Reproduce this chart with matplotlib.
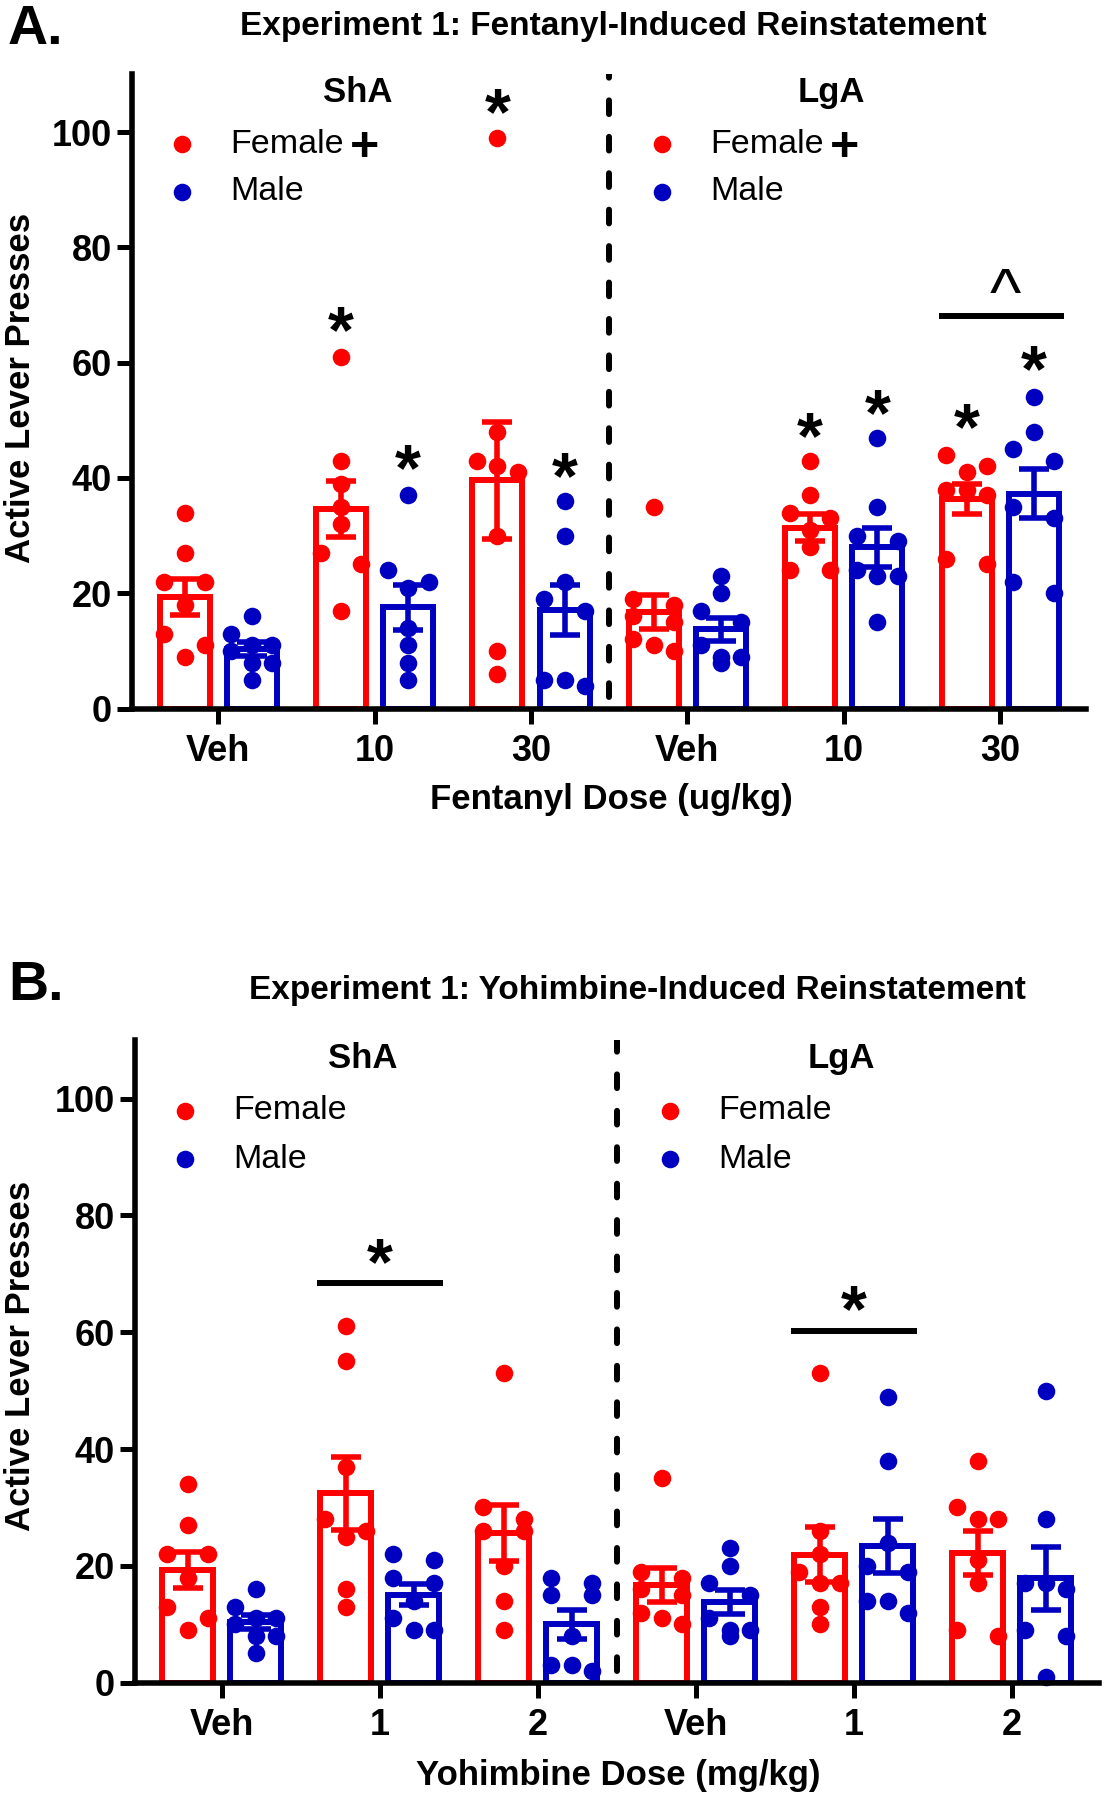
import numpy as np
import matplotlib
matplotlib.use('Agg')
import matplotlib.pyplot as plt

plt.rcParams['font.family'] = ['Liberation Sans', 'DejaVu Sans']

RED = '#FF0000'
BLUE = '#0000C0'

# ---------------- data ----------------
ticklabels_A = ['Veh', '10', '30', 'Veh', '10', '30']
ticklabels_B = ['Veh', '1', '2', 'Veh', '1', '2']

# Panel A: Fentanyl (ShA Veh, 10, 30, LgA Veh, 10, 30)
A_female_pts = [
    [34, 27, 22, 22, 18, 13, 11, 9],
    [61, 43, 39, 35, 32, 27, 25, 17],
    [99, 48, 43, 42, 41, 30, 10, 6],
    [35, 19, 18, 16, 15, 12, 11, 10],
    [43, 37, 34, 33, 31, 28, 24, 24],
    [44, 42, 41, 38, 38, 37, 26, 25],
]
A_male_pts = [
    [16, 13, 11, 11, 10, 8, 8, 5],
    [37, 24, 22, 21, 14, 11, 8, 5],
    [36, 30, 22, 19, 17, 5, 5, 4],
    [23, 20, 17, 15, 11, 9, 9, 8],
    [47, 35, 30, 29, 24, 23, 23, 15],
    [54, 48, 45, 43, 35, 33, 22, 20],
]
A_female_mean = [19.3, 34.6, 39.6, 16.8, 31.4, 36.3]
A_female_sem = [3.1, 4.8, 10.1, 2.9, 2.4, 2.6]
A_male_mean = [10.4, 17.6, 17.1, 13.8, 28.0, 37.3]
A_male_sem = [1.2, 3.9, 4.4, 2.0, 3.4, 4.3]

# Panel B: Yohimbine (ShA Veh, 1, 2, LgA Veh, 1, 2)
B_female_pts = [
    [34, 27, 22, 22, 18, 13, 11, 9],
    [61, 55, 37, 28, 26, 25, 16, 13],
    [53, 30, 28, 26, 26, 20, 14, 9],
    [35, 19, 18, 16, 15, 12, 11, 10],
    [53, 26, 22, 19, 17, 17, 13, 10],
    [38, 30, 28, 28, 21, 17, 9, 8],
]
B_male_pts = [
    [16, 13, 11, 11, 10, 8, 8, 5],
    [22, 21, 18, 17, 14, 11, 9, 9],
    [18, 17, 15, 15, 8, 3, 3, 2],
    [23, 20, 17, 15, 11, 9, 9, 8],
    [49, 38, 24, 20, 19, 14, 14, 12],
    [50, 28, 17, 17, 16, 9, 8, 1],
]
B_female_mean = [19.3, 32.4, 25.7, 16.8, 21.9, 22.2]
B_female_sem = [3.1, 6.3, 4.8, 2.9, 4.7, 3.8]
B_male_mean = [10.4, 15.1, 10.0, 13.8, 23.4, 17.9]
B_male_sem = [1.2, 1.8, 2.5, 2.0, 4.7, 5.4]

# significance asterisks: (group index, sex, y)
A_stars = [(1, 'F', 67.1), (1, 'M', 43.3), (2, 'F', 105.0), (2, 'M', 41.9),
           (4, 'F', 48.8), (4, 'M', 52.8), (5, 'F', 50.4), (5, 'M', 60.4)]

OFF = 0.215
BW = 0.32
STEP = 0.13


def rows_offsets(vals, thr=2.6):
    vals = list(vals)
    offs = [0.0] * len(vals)
    order = sorted(range(len(vals)), key=lambda i: -vals[i])
    i = 0
    while i < len(order):
        row = [order[i]]
        j = i + 1
        while j < len(order) and vals[order[i]] - vals[order[j]] < thr:
            row.append(order[j])
            j += 1
        n = len(row)
        if n == 2:
            pos = [-STEP, STEP]
        else:
            pos = [(k - (n - 1) / 2) * STEP for k in range(n)]
        for idx, p in zip(row, pos):
            offs[idx] = p
        i = j
    return np.array(offs)


def draw_panel(ax, fpts, mpts, fmean, fsem, mmean, msem, ticklabels):
    x = np.arange(6)
    for xs, means, sems, pts, col in [(x - OFF, fmean, fsem, fpts, RED),
                                      (x + OFF, mmean, msem, mpts, BLUE)]:
        ax.bar(xs, means, width=BW, facecolor='white', edgecolor=col,
               linewidth=4.3, zorder=2)
        for xi, p in zip(xs, pts):
            p = np.array(p, dtype=float)
            ax.scatter(xi + rows_offsets(p), p, s=160, color=col, zorder=3,
                       linewidths=0, clip_on=False)
        ax.errorbar(xs, means, yerr=sems, fmt='none', ecolor=col,
                    elinewidth=4, capsize=11, capthick=4, zorder=4)
    ax.set_xlim(-0.55, 5.55)
    ax.set_ylim(0, 110)
    for s in ['top', 'right']:
        ax.spines[s].set_visible(False)
    for s in ['left', 'bottom']:
        ax.spines[s].set_linewidth(4)
        ax.spines[s].set_zorder(5)
    ax.set_yticks([0, 20, 40, 60, 80, 100])
    ax.set_xticks(x)
    ax.set_xticklabels(ticklabels)
    ax.tick_params(axis='both', width=3.6, length=10.5, labelsize=26)
    ax.tick_params(axis='x', pad=8)
    ax.tick_params(axis='y', pad=4)
    for lab in ax.get_xticklabels() + ax.get_yticklabels():
        lab.set_fontweight('bold')
    ax.plot([2.5, 2.5], [2, 110], color='black', lw=4.3,
            linestyle=(0, (2.3, 3.8)), dash_capstyle='round', zorder=1)


def legend(ax, plus):
    for mx, tx, hx in [(-0.23, 0.075, 0.89), (2.84, 3.145, 3.92)]:
        ax.text(hx, 106.9, 'ShA' if mx < 0 else 'LgA', ha='center', va='center',
                fontsize=25, fontweight='bold')
        ax.scatter([mx], [97.9], s=160, color=RED, linewidths=0)
        ax.scatter([mx], [89.6], s=160, color=BLUE, linewidths=0)
        ax.text(tx, 97.9, 'Female', ha='left', va='center', fontsize=24.5)
        ax.text(tx, 89.6, 'Male', ha='left', va='center', fontsize=24.5)
        if plus:
            ax.text(tx + 0.86, 97.2, '+', ha='center', va='center',
                    fontsize=36, fontweight='bold')


def star(ax, x, y, s='*', size=48, weight='bold'):
    ax.text(x, y - 2.4, s, ha='center', va='center', fontsize=size,
            fontweight=weight)


fig = plt.figure(figsize=(11.06, 18), dpi=100)
axA = fig.add_axes([0.1195, 0.6063, 0.8626, 0.3524])
axB = fig.add_axes([0.1219, 0.06517, 0.8714, 0.3569])

draw_panel(axA, A_female_pts, A_male_pts, A_female_mean, A_female_sem,
           A_male_mean, A_male_sem, ticklabels_A)
draw_panel(axB, B_female_pts, B_male_pts, B_female_mean, B_female_sem,
           B_male_mean, B_male_sem, ticklabels_B)
legend(axA, True)
legend(axB, False)

for g, sex, y in A_stars:
    star(axA, g - OFF if sex == 'F' else g + OFF, y)

# group bars
axA.plot([4.61, 5.41], [68.1, 68.1], color='black', lw=4.3, solid_capstyle='butt')
axA.text(5.03, 71.2, '^', ha='center', va='center', fontsize=48)
axB.plot([0.60, 1.40], [68.4, 68.4], color='black', lw=4.3, solid_capstyle='butt')
star(axB, 1.0, 73.6)
axB.plot([3.605, 4.40], [60.2, 60.2], color='black', lw=4.3, solid_capstyle='butt')
star(axB, 4.0, 65.5)

# labels
fig.text(8 / 1106, 1 - 44 / 1800, 'A.', fontsize=40, fontweight='bold',
         ha='left', va='baseline')
fig.text(8 / 1106, 1 - 1000 / 1800, 'B.', fontsize=40, fontweight='bold',
         ha='left', va='baseline')
fig.text(613 / 1106, 1 - 26 / 1800, 'Experiment 1: Fentanyl-Induced Reinstatement',
         fontsize=24, fontweight='bold', ha='center', va='center')
fig.text(637 / 1106, 1 - 991 / 1800, 'Experiment 1: Yohimbine-Induced Reinstatement',
         fontsize=24, fontweight='bold', ha='center', va='center')
fig.text(21 / 1106, 1 - 388 / 1800, 'Active Lever Presses', rotation=90,
         fontsize=25, fontweight='bold', ha='center', va='center')
fig.text(21 / 1106, 1 - 1356 / 1800, 'Active Lever Presses', rotation=90,
         fontsize=25, fontweight='bold', ha='center', va='center')
fig.text(611 / 1106, 1 - 800 / 1800, 'Fentanyl Dose (ug/kg)',
         fontsize=25, fontweight='bold', ha='center', va='center')
fig.text(618 / 1106, 1 - 1776 / 1800, 'Yohimbine Dose (mg/kg)',
         fontsize=25, fontweight='bold', ha='center', va='center')

fig.savefig('out.png', dpi=100)
